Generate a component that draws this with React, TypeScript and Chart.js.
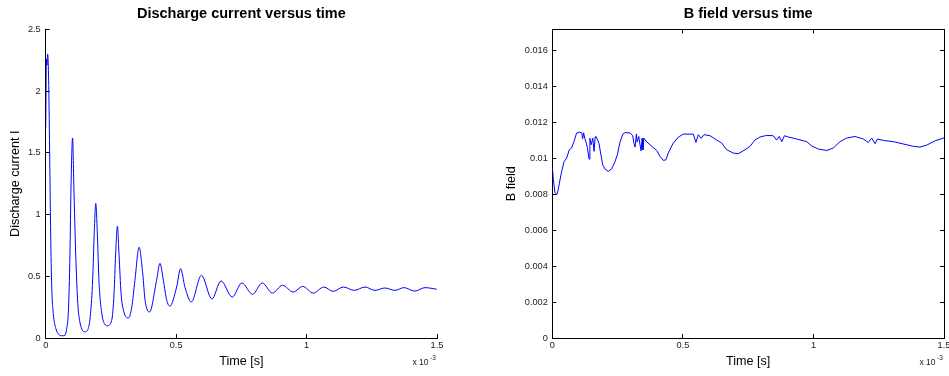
import React, { useEffect, useRef } from "react";
import { Chart, registerables } from "chart.js";

Chart.register(...registerables);

// ---------- data (time in units of 1e-3 s) ----------
const T_CURRENT = [
  0, 0.003, 0.005, 0.007, 0.009, 0.012, 0.016, 0.019, 0.023, 0.029, 0.039, 0.05, 0.062, 0.074, 0.08, 0.087,
  0.093, 0.097, 0.103, 0.108, 0.115, 0.123, 0.131, 0.151, 0.163, 0.172, 0.18, 0.186, 0.192, 0.198, 0.204,
  0.215, 0.227, 0.236, 0.253, 0.262, 0.268, 0.275, 0.281, 0.289, 0.3, 0.317, 0.33, 0.342, 0.358, 0.372,
  0.381, 0.398, 0.425, 0.438, 0.451, 0.464, 0.476, 0.502, 0.517, 0.534, 0.558, 0.597, 0.637, 0.672, 0.715,
  0.752, 0.793, 0.83, 0.869, 0.908, 0.949, 0.985, 1.026, 1.066, 1.102, 1.141, 1.183, 1.224, 1.262, 1.3,
  1.339, 1.373, 1.415, 1.454, 1.499,
];
const CURRENT = [
  1.7, 2.26, 2.21, 2.3, 2.27, 2.0, 1.35, 0.85, 0.42, 0.2, 0.076, 0.03, 0.018, 0.022, 0.07, 0.22,
  0.68, 1.22, 1.62, 1.22, 0.68, 0.28, 0.13, 0.05, 0.076, 0.2, 0.47, 0.845, 1.09, 0.845, 0.47,
  0.2, 0.11, 0.1, 0.143, 0.36, 0.68, 0.905, 0.68, 0.36, 0.21, 0.162, 0.25, 0.467, 0.735, 0.52,
  0.305, 0.21, 0.467, 0.605, 0.467, 0.305, 0.258, 0.413, 0.562, 0.41, 0.292, 0.508, 0.316, 0.462, 0.332,
  0.446, 0.354, 0.446, 0.364, 0.427, 0.372, 0.418, 0.364, 0.413, 0.378, 0.413, 0.386, 0.413, 0.386, 0.405,
  0.386, 0.408, 0.38, 0.408, 0.395,
];

const T_BFIELD = [
  0, 0.004, 0.01, 0.017, 0.022, 0.027, 0.036, 0.045, 0.055, 0.065, 0.074, 0.083, 0.093, 0.103, 0.113,
  0.116, 0.12, 0.124, 0.129, 0.134, 0.141, 0.144, 0.149, 0.155, 0.16, 0.164, 0.167, 0.174, 0.179, 0.185,
  0.193, 0.202, 0.214, 0.227, 0.24, 0.249, 0.259, 0.27, 0.278, 0.298, 0.308, 0.313, 0.317, 0.322, 0.325,
  0.331, 0.336, 0.34, 0.344, 0.347, 0.351, 0.356, 0.362, 0.381, 0.4, 0.412, 0.425, 0.435, 0.444, 0.463,
  0.483, 0.502, 0.54, 0.55, 0.559, 0.57, 0.581, 0.604, 0.63, 0.649, 0.668, 0.693, 0.712, 0.738, 0.757,
  0.776, 0.795, 0.821, 0.846, 0.859, 0.869, 0.879, 0.889, 0.904, 0.936, 0.974, 0.994, 1.019, 1.051,
  1.076, 1.102, 1.127, 1.159, 1.191, 1.21, 1.223, 1.236, 1.245, 1.268, 1.306, 1.345, 1.383, 1.408,
  1.434, 1.466, 1.5,
];
const BFIELD = [
  0.00953, 0.0088, 0.0081, 0.00796, 0.0082, 0.0086, 0.00926, 0.0098, 0.01, 0.01046, 0.01056, 0.01092,
  0.01139, 0.01144, 0.01139, 0.01106, 0.0114, 0.0111, 0.0109, 0.0106, 0.00994, 0.0111, 0.01074, 0.0111,
  0.01037, 0.01117, 0.0112, 0.011, 0.0108, 0.01028, 0.00963, 0.00939, 0.00926, 0.00939, 0.0098, 0.01018,
  0.01087, 0.01133, 0.01141, 0.0114, 0.01124, 0.0108, 0.01061, 0.01133, 0.0109, 0.0112, 0.01074, 0.0104,
  0.0111, 0.01046, 0.0111, 0.011, 0.0109, 0.01065, 0.01042, 0.0101, 0.00987, 0.0099, 0.01028, 0.01083,
  0.01117, 0.01133, 0.01133, 0.01087, 0.0113, 0.0111, 0.0113, 0.01124, 0.011, 0.01083, 0.01046, 0.01028,
  0.01024, 0.01046, 0.01065, 0.011, 0.01117, 0.01126, 0.01124, 0.011, 0.0112, 0.01091, 0.01124, 0.01117,
  0.01106, 0.01091, 0.01067, 0.0105, 0.01042, 0.01056, 0.01091, 0.01111, 0.0112, 0.01106, 0.01087,
  0.01111, 0.0108, 0.01106, 0.01098, 0.01091, 0.01078, 0.01065, 0.01061, 0.01072, 0.01096, 0.01112,
];

const X_TICKS = [0, 0.5, 1, 1.5];
const I_TICKS = [0, 0.5, 1, 1.5, 2, 2.5];
const B_TICKS = [0, 0.002, 0.004, 0.006, 0.008, 0.01, 0.012, 0.014, 0.016];
const X_MAX = 1.5;
const I_MAX = 2.5;
const B_MAX = 0.01715;
const X_EXPONENT = "-3";

// ---------- styling ----------
const FONT = '"Liberation Sans", Arial, Helvetica, sans-serif';
const LINE_COLOR = "#0000ff";
const AXIS_COLOR = "#000000";
const TICK_TEXT = "#1a1a1a";

const fixSize = (size: number) => (scale: any) => {
  if (scale.isHorizontal()) scale.height = size;
  else scale.width = size;
  scale.paddingLeft = 0;
  scale.paddingRight = 0;
  scale.paddingTop = 0;
  scale.paddingBottom = 0;
};

const setTicks = (values: number[]) => (scale: any) => {
  scale.ticks = values.map((v) => ({ value: v }));
};

const fmt = (v: any) => String(Math.round(Number(v) * 100000) / 100000);

const exponentPlugin = {
  id: "exponentLabel",
  afterDraw(chart: any) {
    const { ctx, chartArea } = chart;
    ctx.save();
    ctx.fillStyle = TICK_TEXT;
    ctx.textBaseline = "alphabetic";
    ctx.font = `8.5px ${FONT}`;
    ctx.textAlign = "right";
    ctx.fillText("x 10", chartArea.right - 8.5, chartArea.bottom + 27);
    ctx.font = `6.5px ${FONT}`;
    ctx.textAlign = "left";
    ctx.fillText(X_EXPONENT, chartArea.right - 7, chartArea.bottom + 21.5);
    ctx.restore();
  },
};

function tickGrid() {
  return {
    display: true,
    drawOnChartArea: false,
    drawTicks: true,
    tickLength: -4,
    color: AXIS_COLOR,
    lineWidth: 1,
  };
}

function makeConfig(opts: {
  title: string;
  yTitle: string;
  xs: number[];
  ys: number[];
  yMax: number;
  yTicks: number[];
  yAxisWidth: number;
  yTitlePad: number;
  yLabelPad: number;
  padRight: number;
  box: boolean;
  smooth: boolean;
}): any {
  const tickFont = { family: FONT, size: 9.2 };
  const scales: any = {
    x: {
      type: "linear",
      position: "bottom",
      min: 0,
      max: X_MAX,
      afterBuildTicks: setTicks(X_TICKS),
      afterFit: fixSize(38),
      ticks: { callback: fmt, font: tickFont, color: TICK_TEXT, padding: 5.5, maxRotation: 0, autoSkip: false },
      grid: tickGrid(),
      border: { display: true, color: AXIS_COLOR, width: 1 },
      title: {
        display: true,
        text: "Time [s]",
        color: "#000",
        font: { family: FONT, size: 12.6 },
        padding: { top: 0, bottom: 6.7 },
      },
    },
    y: {
      type: "linear",
      position: "left",
      min: 0,
      max: opts.yMax,
      afterBuildTicks: setTicks(opts.yTicks),
      afterFit: fixSize(opts.yAxisWidth),
      ticks: { callback: fmt, font: tickFont, color: TICK_TEXT, padding: opts.yLabelPad, autoSkip: false },
      grid: tickGrid(),
      border: { display: true, color: AXIS_COLOR, width: 1 },
      title: {
        display: true,
        text: opts.yTitle,
        color: "#000",
        font: { family: FONT, size: 12.6 },
        padding: { top: opts.yTitlePad, bottom: 0 },
      },
    },
  };
  if (opts.box) {
    scales.x2 = {
      type: "linear",
      position: "top",
      min: 0,
      max: X_MAX,
      afterBuildTicks: setTicks(X_TICKS),
      afterFit: fixSize(0),
      ticks: { display: false },
      grid: tickGrid(),
      border: { display: true, color: AXIS_COLOR, width: 1 },
    };
    scales.y2 = {
      type: "linear",
      position: "right",
      min: 0,
      max: opts.yMax,
      afterBuildTicks: setTicks(opts.yTicks),
      afterFit: fixSize(0),
      ticks: { display: false },
      grid: tickGrid(),
      border: { display: true, color: AXIS_COLOR, width: 1 },
    };
  }
  return {
    type: "line",
    data: {
      datasets: [
        {
          data: opts.xs.map((x, i) => ({ x, y: opts.ys[i] })),
          borderColor: LINE_COLOR,
          borderWidth: 1,
          pointRadius: 0,
          fill: false,
          tension: 0,
          cubicInterpolationMode: opts.smooth ? "monotone" : "default",
        },
      ],
    },
    options: {
      animation: false,
      responsive: false,
      events: [],
      layout: { padding: { left: 0, right: opts.padRight, top: 0, bottom: 0 } },
      plugins: {
        legend: { display: false },
        tooltip: { enabled: false },
        title: {
          display: true,
          text: opts.title,
          fullSize: false,
          color: "#000",
          font: { family: FONT, size: 14.5, weight: "bold" },
          padding: { top: 4.8, bottom: 7.2 },
        },
      },
      scales,
    },
    plugins: [exponentPlugin],
  };
}

export default function App() {
  const leftRef = useRef<HTMLCanvasElement>(null);
  const rightRef = useRef<HTMLCanvasElement>(null);

  useEffect(() => {
    const left = new Chart(
      leftRef.current as HTMLCanvasElement,
      makeConfig({
        title: "Discharge current versus time",
        yTitle: "Discharge current I",
        xs: T_CURRENT,
        ys: CURRENT,
        yMax: I_MAX,
        yTicks: I_TICKS,
        yAxisWidth: 45.7,
        yTitlePad: 8.4,
        yLabelPad: 9,
        padRight: 38,
        box: false,
        smooth: true,
      })
    );
    const right = new Chart(
      rightRef.current as HTMLCanvasElement,
      makeConfig({
        title: "B field versus time",
        yTitle: "B field",
        xs: T_BFIELD,
        ys: BFIELD,
        yMax: B_MAX,
        yTicks: B_TICKS,
        yAxisWidth: 77.3,
        yTitlePad: 29,
        yLabelPad: 8.5,
        padRight: 5,
        box: true,
        smooth: false,
      })
    );
    return () => {
      left.destroy();
      right.destroy();
    };
  }, []);

  return (
    <div style={{ position: "absolute", left: 0, top: 0, width: 949, height: 376, background: "#fff", overflow: "hidden" }}>
      <canvas ref={leftRef} width={475} height={376} style={{ position: "absolute", left: 0, top: 0, width: 475, height: 376 }} />
      <canvas ref={rightRef} width={474} height={376} style={{ position: "absolute", left: 475, top: 0, width: 474, height: 376 }} />
    </div>
  );
}
